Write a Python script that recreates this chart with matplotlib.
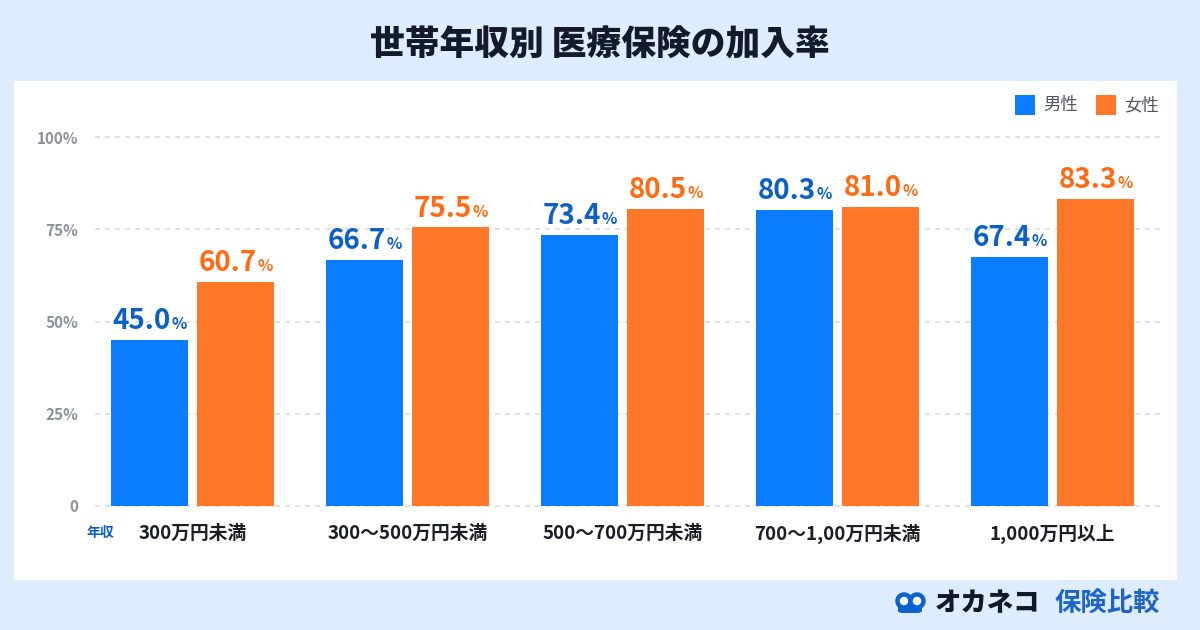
import matplotlib
matplotlib.use("Agg")
import matplotlib.pyplot as plt
from matplotlib.patches import Rectangle, Ellipse, FancyBboxPatch
from matplotlib.offsetbox import TextArea, HPacker, AnnotationBbox
import numpy as np

plt.rcParams['font.family'] = ['Noto Sans CJK JP', 'DejaVu Sans']

title = "世帯年収別 医療保険の加入率"
categories = ["300万円未満", "300〜500万円未満", "500〜700万円未満", "700〜1,00万円未満", "1,000万円以上"]
male = [45.0, 66.7, 73.4, 80.3, 67.4]
female = [60.7, 75.5, 80.5, 81.0, 83.3]
series_names = ["男性", "女性"]
yticks = [0, 25, 50, 75, 100]
ytick_labels = ["0", "25%", "50%", "75%", "100%"]

BG = "#DDEDFD"
BLUE = "#0A7CFF"
ORANGE = "#FF7729"
BLUE_TXT = "#0B5FC5"
ORANGE_TXT = "#FF6B12"

W, H = 1200, 630
fig = plt.figure(figsize=(12, 6.3), dpi=100, facecolor=BG)

def fx(px):
    return px / W

def fy(py):
    return 1 - py / H

# white panel
fig.patches.append(Rectangle((fx(14), fy(580)), fx(1177) - fx(14), fy(81) - fy(580),
                             transform=fig.transFigure, facecolor="white", edgecolor="none", zorder=-5))

fig.text(0.5, fy(45), title, ha="center", va="center", fontsize=25, fontweight="heavy", color="#131A2A")

ax = fig.add_axes([fx(95), fy(506), fx(1162) - fx(95), fy(137) - fy(506)], zorder=2)
ax.set_facecolor("none")
x = np.arange(len(categories))
bw = 0.358
off = 0.2
ax.bar(x - off, male, width=bw, color=BLUE, zorder=3)
ax.bar(x + off, female, width=bw, color=ORANGE, zorder=3)
ax.set_xlim(-0.453, 4.509)
ax.set_ylim(0, 100)
for s in ax.spines.values():
    s.set_visible(False)
ax.set_yticks(yticks)
ax.set_yticklabels(ytick_labels, fontsize=11, fontweight="bold", color="#8C9199")
ax.tick_params(axis="y", length=0, pad=12)
ax.set_xticks(x)
ax.set_xticklabels(categories, fontsize=13.5, fontweight="bold", color="#1A1D26")
ax.tick_params(axis="x", length=0, pad=13)
for yv in yticks:
    ax.axhline(yv, color="#DCDCDC", linewidth=1.2, linestyle=(0, (3, 3)), zorder=1, clip_on=False)

def add_label(xpos, val, color):
    num = TextArea(f"{val:.1f}", textprops=dict(fontsize=20, fontweight="bold", color=color))
    pct = TextArea("%", textprops=dict(fontsize=11.5, fontweight="bold", color=color))
    box = HPacker(children=[num, pct], align="baseline", pad=0, sep=0.5)
    ab = AnnotationBbox(box, (xpos, val), xybox=(0, 3.5), boxcoords="offset points",
                        box_alignment=(0.5, 0), frameon=False, annotation_clip=False, pad=0)
    ax.add_artist(ab)

for i in range(len(categories)):
    add_label(x[i] - off, male[i], BLUE_TXT)
    add_label(x[i] + off, female[i], ORANGE_TXT)

fig.text(fx(100), fy(533), "年収", ha="center", va="center", fontsize=10, fontweight="bold", color=BLUE_TXT)

# legend
for (sx, name, col) in [(1015, series_names[0], BLUE), (1096, series_names[1], ORANGE)]:
    fig.patches.append(Rectangle((fx(sx), fy(115)), fx(20), fy(95) - fy(115),
                                 transform=fig.transFigure, facecolor=col, edgecolor="none"))
    fig.text(fx(sx + 28), fy(105), name, ha="left", va="center", fontsize=12.5, color="#4F5662")

# logo icon
LOGO_BLUE = "#0B62D0"
fig.patches.append(FancyBboxPatch((fx(898), fy(613)), fx(24), fy(605) - fy(613),
                                  boxstyle="round,pad=0,rounding_size=0.004",
                                  transform=fig.transFigure, facecolor=LOGO_BLUE, edgecolor="none"))
for cx in [904, 917]:
    fig.patches.append(Ellipse((fx(cx), fy(601)), fx(13), fy(588) - fy(601), transform=fig.transFigure,
                               facecolor="white", edgecolor=LOGO_BLUE, linewidth=3.2))
fig.text(fx(935), fy(603), "オカネコ", ha="left", va="center", fontsize=19, fontweight="heavy", color="#111827")
fig.text(fx(1055), fy(603), "保険比較", ha="left", va="center", fontsize=19, fontweight="bold", color="#1D63C8")

fig.savefig("out.png", dpi=100, facecolor=BG)
